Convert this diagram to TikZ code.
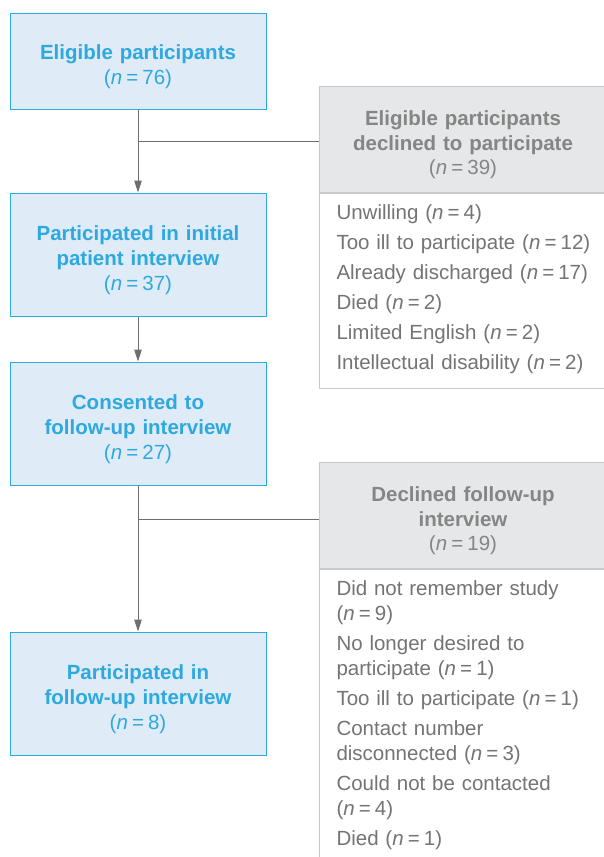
\documentclass[tikz,border=0pt]{standalone}
\usepackage{fontspec}
\setmainfont{Liberation Sans}
\usetikzlibrary{positioning,arrows.meta}
\definecolor{boxblue}{HTML}{DFEBF7}
\definecolor{lineblue}{HTML}{2CABE3}
\definecolor{textblue}{HTML}{2EA9DF}
\definecolor{headgrey}{HTML}{E6E7E8}
\definecolor{linegrey}{HTML}{C8C9CB}
\definecolor{headtext}{HTML}{858585}
\definecolor{listtext}{HTML}{747474}
\definecolor{arrowgrey}{HTML}{6D6E71}
\newcommand{\nval}[1]{(\textit{n}\hspace{0.2em}=\hspace{0.2em}#1)}
\begin{document}
\begin{tikzpicture}[
    x=1pt, y=-1pt,
    node distance=83pt and 0pt,
    block/.style={rectangle, draw=lineblue, line width=1pt, fill=boxblue, text=textblue,
      text width=236pt, align=center, minimum width=256pt, minimum height=123pt,
      text height=26.5pt, font=\fontsize{20.5}{25}\selectfont},
    headbox/.style={rectangle, draw=linegrey, line width=1pt, fill=headgrey, text=headtext,
      text width=267pt, align=center, minimum width=287pt, minimum height=106pt,
      text height=26pt, font=\bfseries\fontsize{20.5}{24.5}\selectfont},
    listbox/.style={rectangle, draw=linegrey, line width=1pt, fill=white, text=listtext,
      text width=262pt, align=left, inner xsep=17pt, inner ysep=11.5pt,
      font=\fontsize{20.5}{25}\selectfont},
    arrow/.style={-{Triangle[length=12pt,width=7.5pt]}, draw=arrowgrey, line width=1pt},
    branch/.style={draw=arrowgrey, line width=1pt}
]
\useasboundingbox (0,0) rectangle (604,857);

% Main column
\node (n1) [block, minimum height=96pt] at (138,61) {\textbf{Eligible participants}\\\nval{76}};
\node (n2) [block, below=83pt of n1] {\textbf{Participated in initial patient interview}\\\nval{37}};
\node (n3) [block, below=45pt of n2] {\textbf{Consented to\\follow-up interview}\\\nval{27}};
\node (n4) [block, below=146pt of n3] {\textbf{Participated in\\follow-up interview}\\\nval{8}};

% Exclusion boxes
\node (d1head) [headbox, anchor=north west] at (319,86) {Eligible participants\\declined to participate\\\mdseries\nval{39}};
\node (d1list) [listbox, anchor=north west, text depth=157pt] at (d1head.south west) {%
  Unwilling \nval{4}\\[5pt]
  Too ill to participate \nval{12}\\[5pt]
  Already discharged \nval{17}\\[5pt]
  Died \nval{2}\\[5pt]
  Limited English \nval{2}\\[5pt]
  Intellectual disability \nval{2}};
\node (d2head) [headbox, anchor=north west] at (319,462) {Declined follow-up\\interview\\\mdseries\nval{19}};
\node (d2list) [listbox, anchor=north west, text depth=300pt] at (d2head.south west) {%
  Did not remember study\\\nval{9}\\[5pt]
  No longer desired to\\participate \nval{1}\\[5pt]
  Too ill to participate \nval{1}\\[5pt]
  Contact number\\disconnected \nval{3}\\[5pt]
  Could not be contacted\\\nval{4}\\[5pt]
  Died \nval{1}};

% Connect nodes
\coordinate (b1) at (138,141);
\coordinate (b2) at (138,519);
\draw [arrow] (n1) -- (n2);
\draw [arrow] (n2) -- (n3);
\draw [arrow] (n3) -- (n4);
\draw [branch] (b1) -- (b1 -| d1head.west);
\draw [branch] (b2) -- (b2 -| d2head.west);
\end{tikzpicture}
\end{document}
